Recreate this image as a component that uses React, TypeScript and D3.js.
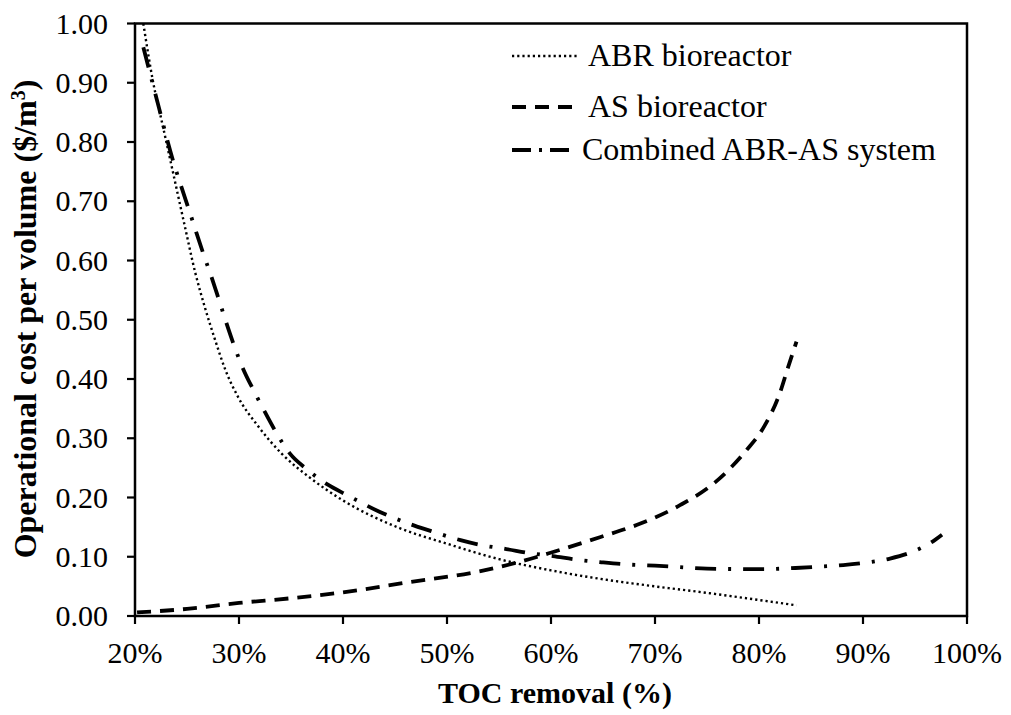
import React from "react";
import * as d3 from "d3";

// TOC removal (%) and cost ($/m3)
const abrX = [20.8, 21.7, 22.7, 23.7, 24.8, 25.8, 26.7, 27.7, 28.7, 29.9, 31.9, 34.1, 36.7, 40, 45.5, 50, 55, 60, 65, 70, 75, 80, 83.6];
const abrY = [1.0, 0.905, 0.825, 0.745, 0.657, 0.579, 0.522, 0.466, 0.415, 0.37, 0.319, 0.274, 0.235, 0.195, 0.148, 0.122, 0.096, 0.077, 0.062, 0.05, 0.039, 0.027, 0.018];

const asX = [20.2, 25, 30, 35, 40, 46.3, 52.7, 56.9, 60.2, 64.7, 68.6, 72.4, 75.8, 78.8, 80.5, 82.0, 82.8, 83.6];
const asY = [0.006, 0.012, 0.022, 0.03, 0.04, 0.057, 0.074, 0.091, 0.108, 0.133, 0.156, 0.187, 0.226, 0.28, 0.32, 0.376, 0.42, 0.463];

const combX = [20.8, 21.5, 22.3, 23.0, 23.7, 24.5, 25.2, 25.9, 26.6, 27.4, 28.1, 28.8, 29.5, 30.4, 31.4, 32.5, 33.5, 34.9, 36.5, 38.5, 40.4, 43.5, 46.8, 48.7, 51.3, 53.2, 55.7, 58, 60.2, 62.5, 64.7, 67.3, 70, 72, 75, 80, 83.5, 85.5, 88.1, 90.2, 92.6, 94.7, 96.9, 97.6];
const combY = [0.96, 0.912, 0.858, 0.81, 0.766, 0.722, 0.685, 0.647, 0.61, 0.57, 0.532, 0.494, 0.458, 0.417, 0.381, 0.344, 0.312, 0.274, 0.248, 0.222, 0.204, 0.176, 0.153, 0.142, 0.128, 0.12, 0.113, 0.106, 0.101, 0.095, 0.091, 0.087, 0.085, 0.083, 0.08, 0.079, 0.081, 0.083, 0.086, 0.09, 0.097, 0.108, 0.128, 0.137];

const xTicks = [20, 30, 40, 50, 60, 70, 80, 90, 100];
const yTicks = [0, 0.1, 0.2, 0.3, 0.4, 0.5, 0.6, 0.7, 0.8, 0.9, 1.0];

const seriesNames = ["ABR bioreactor", "AS bioreactor", "Combined ABR-AS system"];
const xTitle = "TOC removal (%)";

const FONT = "Liberation Serif";

export default function App() {
  const W = 1011, H = 715;
  const left = 135, right = 967, top = 23.5, bottom = 616;
  const x = d3.scaleLinear().domain([20, 100]).range([left, right]);
  const y = d3.scaleLinear().domain([0, 1]).range([bottom, top]);

  const line = d3.line<[number, number]>()
    .x(d => x(d[0]))
    .y(d => y(d[1]))
    .curve(d3.curveMonotoneX);

  const zip = (a: number[], b: number[]) => a.map((v, i) => [v, b[i]] as [number, number]);

  const styles = [
    { dash: "2.2 3", width: 2.4 },
    { dash: "14 9", width: 3.8 },
    { dash: "21 12 3 12", width: 3.8 },
  ];
  const data = [zip(abrX, abrY), zip(asX, asY), zip(combX, combY)];

  const legendY = [56, 107, 150];
  const legendTextY = [66, 117, 160];
  const legendTextX = [588, 588, 582];

  return (
    <svg width={W} height={H} style={{ position: "absolute", left: 0, top: 0, background: "#fff" }}>
      <rect x={0} y={0} width={W} height={H} fill="#fff" />
      {data.map((d, i) => (
        <path key={i} d={line(d) || ""} fill="none" stroke="#000"
          strokeWidth={styles[i].width} strokeDasharray={styles[i].dash} />
      ))}
      <rect x={left} y={top} width={right - left} height={bottom - top} fill="none" stroke="#000" strokeWidth={2.5} />
      {yTicks.map(t => (
        <g key={t}>
          <line x1={left - 8} x2={left} y1={y(t)} y2={y(t)} stroke="#000" strokeWidth={2.2} />
          <text x={108} y={y(t) + 10} textAnchor="end" fontFamily={FONT} fontSize={30}>{t.toFixed(2)}</text>
        </g>
      ))}
      {xTicks.map(t => (
        <g key={t}>
          <line x1={x(t)} x2={x(t)} y1={bottom} y2={bottom + 8} stroke="#000" strokeWidth={2.2} />
          <text x={x(t)} y={663} textAnchor="middle" fontFamily={FONT} fontSize={30}>{t}%</text>
        </g>
      ))}
      <text x={555} y={703} textAnchor="middle" fontFamily={FONT} fontSize={30} fontWeight="bold">{xTitle}</text>
      <text transform={`translate(36, 319) rotate(-90)`} textAnchor="middle" fontFamily={FONT} fontSize={32} fontWeight="bold">
        Operational cost per volume ($/m<tspan dy={-11} fontSize={20}>3</tspan><tspan dy={11}>)</tspan>
      </text>
      {seriesNames.map((n, i) => (
        <g key={n}>
          <line x1={512} x2={577} y1={legendY[i]} y2={legendY[i]} stroke="#000"
            strokeWidth={styles[i].width} strokeDasharray={i === 2 ? "19 8 3 8" : styles[i].dash} />
          <text x={legendTextX[i]} y={legendTextY[i]} fontFamily={FONT} fontSize={32}>{n}</text>
        </g>
      ))}
    </svg>
  );
}
